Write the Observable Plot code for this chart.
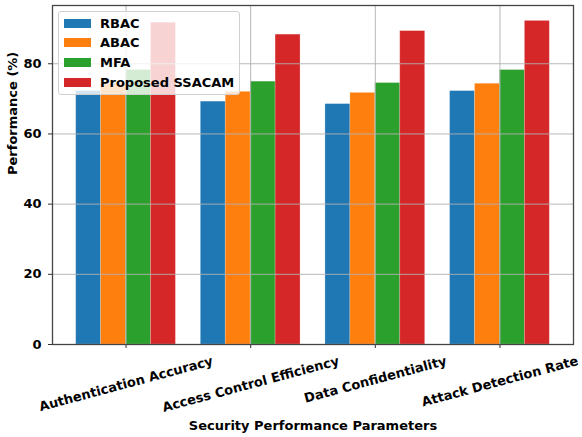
<!DOCTYPE html>
<html><head>
<meta charset="utf-8">
<script src="https://cdn.jsdelivr.net/npm/d3@7"></script>
<script src="https://cdn.jsdelivr.net/npm/@observablehq/plot@0.6"></script>
<style>
body{margin:0;background:#fff;font-family:"DejaVu Sans",sans-serif}
#wrap{position:relative;width:582px;height:437px}
#legend{position:absolute;left:58px;top:11px;width:182px;height:84px;background:rgba(255,255,255,0.8);border:1px solid #d0d0d0;border-radius:3px;box-sizing:border-box;font-weight:bold;font-size:13px;color:#000}
.item{position:absolute;left:0;height:20px;display:flex;align-items:center}
.sw{position:absolute;left:5px;width:27px;height:9px}
.lb{position:absolute;left:41px;white-space:nowrap}
</style></head><body><div id="wrap"><div id="legend"></div></div>
<script>
const categories = ["Authentication Accuracy","Access Control Efficiency","Data Confidentiality","Attack Detection Rate"];
const methods = ["RBAC","ABAC","MFA","Proposed SSACAM"];
const colors = ["#1f77b4","#ff7f0e","#2ca02c","#d62728"];
const rbac = [72.2, 69.2, 68.5, 72.2];
const abac = [74.3, 72.0, 71.7, 74.3];
const mfa = [78.2, 74.9, 74.5, 78.2];
const ssacam = [91.7, 88.3, 89.3, 92.2];
const yTicks = [0, 20, 40, 60, 80];
const xTitle = "Security Performance Parameters";
const yTitle = "Performance (%)";

const series = [rbac, abac, mfa, ssacam];
const barWidth = 0.2;
const rows = [];
methods.forEach((m, si) => categories.forEach((c, ci) => rows.push({
  method: m, category: c,
  x1: ci + (si - 2) * barWidth, x2: ci + (si - 1) * barWidth,
  value: series[si][ci]
})));
const catIdx = categories.map((c, i) => i);

const chart = Plot.plot({
  width: 582, height: 437,
  marginLeft: 52, marginRight: 9, marginTop: 5, marginBottom: 93,
  style: {fontFamily: "DejaVu Sans", fontWeight: "bold", fontSize: "13px", color: "#000", background: "transparent"},
  x: {domain: [-0.59, 3.59], axis: null},
  y: {domain: [0, 96.6], axis: null},
  color: {domain: methods, range: colors},
  marks: [
    Plot.rectY(rows, {x1: "x1", x2: "x2", y1: 0, y2: "value", fill: "method", stroke: "#fff", strokeOpacity: 0.25, strokeWidth: 0.8}),
    Plot.gridX(catIdx, {stroke: "#b0b0b0", strokeOpacity: 0.9, strokeWidth: 1}),
    Plot.gridY(yTicks, {stroke: "#b0b0b0", strokeOpacity: 0.9, strokeWidth: 1}),
    Plot.axisY(yTicks, {tickSize: 4, tickPadding: 7, label: null, fontSize: 13, stroke: "#333", fill: "#000"}),
    Plot.axisX(catIdx, {tickSize: 4, tickFormat: () => "", label: null, stroke: "#333"}),
    Plot.frame({stroke: "#444", strokeWidth: 1.3}),
    Plot.text(categories, {x: (d, i) => i, frameAnchor: "bottom", rotate: -15, dy: 37, textAnchor: "middle", lineAnchor: "middle", fontSize: 13, fill: "#000"}),
    Plot.text([xTitle], {frameAnchor: "bottom", dy: 81, lineAnchor: "middle", fontSize: 13, fill: "#000"}),
    Plot.text([yTitle], {frameAnchor: "left", rotate: -90, dx: -40, lineAnchor: "middle", fontSize: 13, fill: "#000"})
  ]
});
const wrap = document.getElementById("wrap");
wrap.insertBefore(chart, wrap.firstChild);

// align rotated category labels so their bounding boxes share the same top
const svgTop = chart.getBoundingClientRect().top;
chart.querySelectorAll("text").forEach(el => {
  if (!categories.includes(el.textContent)) return;
  const r = el.getBoundingClientRect();
  const shift = 353 - (r.top - svgTop);
  el.setAttribute("transform", `translate(0,${shift}) ` + (el.getAttribute("transform") || ""));
});

const legend = document.getElementById("legend");
methods.forEach((m, i) => {
  const item = document.createElement("div");
  item.className = "item";
  item.style.top = (1 + i * 19.7) + "px";
  item.innerHTML = `<span class="sw" style="background:${colors[i]}"></span><span class="lb">${m}</span>`;
  legend.appendChild(item);
});
</script>
</body></html>
